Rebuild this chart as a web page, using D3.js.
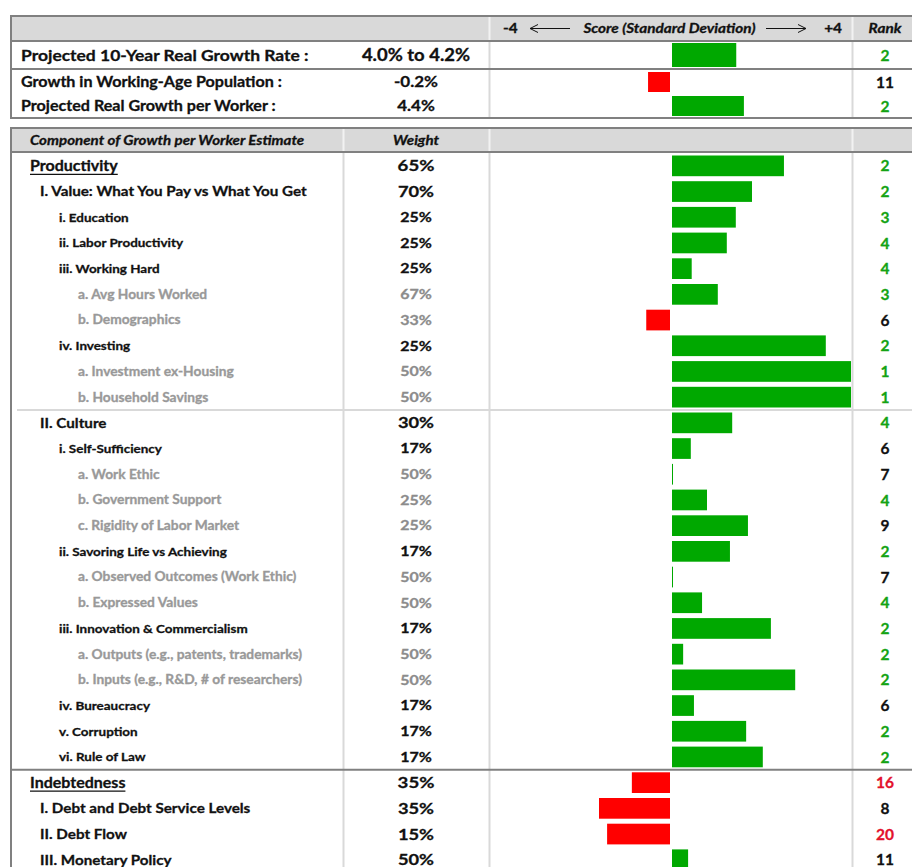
<!DOCTYPE html>
<html lang="en">
<head>
  <meta charset="UTF-8">
  <title>Growth per Worker Scorecard</title>
  <script src="https://d3js.org/d3.v7.min.js"></script>
  <style>
    body { margin: 0; background: #fff; }
    text { font-family: Lato, "Open Sans", sans-serif; font-weight: 700; }
  </style>
</head>
<body>
  <div id="chart"></div>
  <script>
    // summary rows
    const topLabels = ["Projected 10-Year Real Growth Rate :", "Growth in Working-Age Population :", "Projected Real Growth per Worker :"];
    const topValues = ["4.0% to 4.2%", "-0.2%", "4.4%"];
    const topScores = [1.45, -0.51, 1.62];
    const topRanks = [2, 11, 2];

    // component rows
    const labels = [
      "Productivity", "I. Value: What You Pay vs What You Get", "i. Education", "ii. Labor Productivity",
      "iii. Working Hard", "a. Avg Hours Worked", "b. Demographics", "iv. Investing",
      "a. Investment ex-Housing", "b. Household Savings", "II. Culture", "i. Self-Sufficiency",
      "a. Work Ethic", "b. Government Support", "c. Rigidity of Labor Market", "ii. Savoring Life vs Achieving",
      "a. Observed Outcomes (Work Ethic)", "b. Expressed Values", "iii. Innovation & Commercialism",
      "a. Outputs (e.g., patents, trademarks)", "b. Inputs (e.g., R&D, # of researchers)", "iv. Bureaucracy",
      "v. Corruption", "vi. Rule of Law", "Indebtedness", "I. Debt and Debt Service Levels",
      "II. Debt Flow", "III. Monetary Policy"
    ];
    const levels = [0, 1, 2, 2, 2, 3, 3, 2, 3, 3, 1, 2, 3, 3, 3, 2, 3, 3, 2, 3, 3, 2, 2, 2, 0, 1, 1, 1];
    const weights = ["65%", "70%", "25%", "25%", "25%", "67%", "33%", "25%", "50%", "50%", "30%", "17%", "50%", "25%",
      "25%", "17%", "50%", "50%", "17%", "50%", "50%", "17%", "17%", "17%", "35%", "35%", "15%", "50%"];
    const scores = [2.51, 1.8, 1.44, 1.24, 0.46, 1.04, -0.55, 3.44, 4.4, 4.3, 1.36, 0.44, 0.03, 0.8,
      1.71, 1.31, 0.03, 0.69, 2.22, 0.27, 2.76, 0.51, 1.67, 2.04, -0.87, -1.6, -1.42, 0.38];
    const ranks = [2, 2, 3, 4, 4, 3, 6, 2, 1, 1, 4, 6, 7, 4, 9, 2, 7, 4, 2, 2, 2, 6, 2, 2, 16, 8, 20, 11];

    const width = 912, height = 867;
    const border = "#808080", divider = "#d9d9d9", headFill = "#d9d9d9";
    const green = "#00a800", red = "#ff0000";
    const ink = "#111", grey = "#999";
    const rankColor = r => r <= 4 ? "#14a314" : r >= 16 ? "#e3122d" : ink;
    const SX = 1.12; // the source font runs a little wide

    const svg = d3.select("#chart").append("svg")
      .attr("width", width).attr("height", height);

    const x = d3.scaleLinear().domain([-4, 4]).range([491, 851]).clamp(true);
    const colWeight = 416, colRank = 885;

    function txt(g, px, py, s, o = {}) {
      const sx = o.sx || SX;
      const fill = o.fill || ink;
      return g.append("text")
        .attr("transform", `translate(${px},${py}) scale(${sx},1)`)
        .attr("dy", o.dy || "0.36em")
        .attr("font-size", o.fs || 13)
        .attr("font-style", o.italic ? "italic" : null)
        .attr("text-anchor", o.anchor || "start")
        .attr("fill", fill)
        .attr("stroke", fill).attr("stroke-width", 0.3)
        .text(s);
    }

    function bar(g, v, y0, h) {
      const x0 = x(0);
      g.append("rect")
        .attr("x", v >= 0 ? x0 + 1 : x(v))
        .attr("y", y0).attr("height", h)
        .attr("width", Math.max(1, Math.abs(x(v) - x0) - 1))
        .attr("fill", v >= 0 ? green : red);
    }

    // ---------- top table ----------
    const topG = svg.append("g");
    topG.append("rect").attr("x", 10).attr("y", 16).attr("width", 940).attr("height", 25).attr("fill", headFill);
    [489.5, 852.5].forEach(cx => {
      topG.append("line").attr("x1", cx).attr("x2", cx).attr("y1", 16).attr("y2", 41).attr("stroke", "#f2f2f2").attr("stroke-width", 2);
      topG.append("line").attr("x1", cx).attr("x2", cx).attr("y1", 42).attr("y2", 118).attr("stroke", divider).attr("stroke-width", 2);
    });

    // header: -4 <-- Score --> +4, Rank
    txt(topG, 503, 28.5, "-4", { fs: 13.7 });
    txt(topG, 669.5, 28.5, "Score (Standard Deviation)", { fs: 13.7, italic: true, anchor: "middle" });
    txt(topG, 842, 28.5, "+4", { fs: 13.7, anchor: "end" });
    txt(topG, colRank, 28.5, "Rank", { fs: 13.7, italic: true, anchor: "middle" });
    const arrow = (x1, x2, dir) => {
      topG.append("line").attr("x1", x1).attr("x2", x2).attr("y1", 28.5).attr("y2", 28.5).attr("stroke", ink).attr("stroke-width", 1);
      const tip = dir < 0 ? x1 : x2;
      topG.append("path").attr("d", `M${tip - dir * 8},24.5 L${tip},28.5 L${tip - dir * 8},32.5`)
        .attr("fill", "none").attr("stroke", ink).attr("stroke-width", 1);
    };
    arrow(530, 570, -1);
    arrow(766, 806, 1);

    const topRows = [
      { y: 41, h: 28, fs: 15.6, vfs: 16.5, bh: 24 },
      { y: 70, h: 24, fs: 14.4, vfs: 15.2, bh: 20 },
      { y: 94, h: 24, fs: 14.4, vfs: 15.2, bh: 20 }
    ];
    topRows.forEach((r, i) => {
      const cy = r.y + r.h / 2;
      txt(topG, 21, cy, topLabels[i], { fs: r.fs });
      txt(topG, colWeight, cy, topValues[i], { fs: r.vfs, anchor: "middle" });
      txt(topG, colRank, cy, topRanks[i], { fs: 15.5, anchor: "middle", sx: 1, fill: rankColor(topRanks[i]) });
      bar(topG, topScores[i], cy - r.bh / 2, r.bh);
    });
    topG.append("line").attr("x1", 10).attr("x2", 950).attr("y1", 69).attr("y2", 69).attr("stroke", border).attr("stroke-width", 2);
    topG.append("line").attr("x1", 10).attr("x2", 950).attr("y1", 41).attr("y2", 41).attr("stroke", border).attr("stroke-width", 2);
    topG.append("rect").attr("x", 11).attr("y", 16).attr("width", 940).attr("height", 102)
      .attr("fill", "none").attr("stroke", border).attr("stroke-width", 2);

    // ---------- component table ----------
    const tb = svg.append("g");
    const rowTop = 153, rowH = 25.7;
    const y = d3.scaleBand().domain(d3.range(labels.length)).range([rowTop, rowTop + rowH * labels.length]);

    tb.append("rect").attr("x", 10).attr("y", 128).attr("width", 940).attr("height", 24).attr("fill", headFill);
    [343.5, 489.5, 852.5].forEach(cx => {
      tb.append("line").attr("x1", cx).attr("x2", cx).attr("y1", 128).attr("y2", 152).attr("stroke", "#f2f2f2").attr("stroke-width", 2);
      tb.append("line").attr("x1", cx).attr("x2", cx).attr("y1", 153).attr("y2", height + 10).attr("stroke", divider).attr("stroke-width", 2);
    });
    txt(tb, 30, 140.5, "Component of Growth per Worker Estimate", { fs: 13.5, italic: true });
    txt(tb, colWeight, 140.5, "Weight", { fs: 13.5, italic: true, anchor: "middle" });

    const indent = [30, 40, 59, 78];
    const fsize = [14.3, 13.6, 12, 12.3];
    const wsize = [15.5, 15.2, 13.3, 13.3];

    // section separators
    tb.append("line").attr("x1", 17).attr("x2", 950).attr("y1", y(10)).attr("y2", y(10)).attr("stroke", divider).attr("stroke-width", 2);
    tb.append("line").attr("x1", 10).attr("x2", 950).attr("y1", y(24)).attr("y2", y(24)).attr("stroke", border).attr("stroke-width", 2);

    labels.forEach((lab, i) => {
      const lv = levels[i];
      const cy = y(i) + y.bandwidth() / 2;
      const col = lv === 3 ? grey : ink;
      const t = txt(tb, indent[lv], cy, lab, { fs: fsize[lv], fill: col });
      if (lv === 0) {
        const len = t.node().getComputedTextLength() * SX;
        tb.append("line").attr("x1", indent[lv]).attr("x2", indent[lv] + len)
          .attr("y1", cy + 8.5).attr("y2", cy + 8.5).attr("stroke", ink).attr("stroke-width", 1.3);
      }
      txt(tb, colWeight, cy, weights[i], { fs: wsize[lv], anchor: "middle", sx: 1.2, fill: lv === 3 ? "#8c8c8c" : ink });
      txt(tb, colRank, cy, ranks[i], { fs: 15.5, anchor: "middle", sx: 1, fill: rankColor(ranks[i]) });
      bar(tb, scores[i], y(i) + 2.5, rowH - 5);
    });

    tb.append("line").attr("x1", 10).attr("x2", 950).attr("y1", 152).attr("y2", 152).attr("stroke", border).attr("stroke-width", 2);
    tb.append("rect").attr("x", 11).attr("y", 128).attr("width", 940).attr("height", 800)
      .attr("fill", "none").attr("stroke", border).attr("stroke-width", 2);
  </script>
</body>
</html>
